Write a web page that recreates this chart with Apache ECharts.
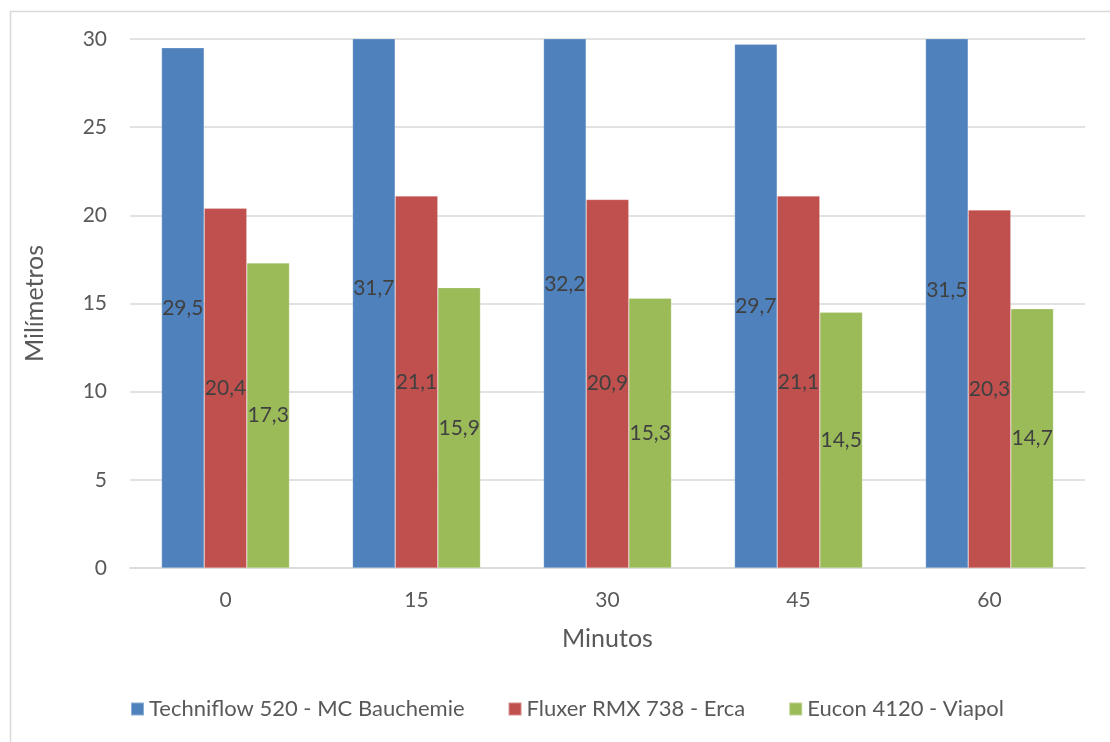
<!DOCTYPE html>
<html>
<head>
<meta charset="utf-8">
<script src="https://cdn.jsdelivr.net/npm/echarts@6/dist/echarts.min.js"></script>
<style>
  html, body { margin: 0; padding: 0; background: #ffffff; }
  #chart { width: 1110px; height: 742px; }
</style>
</head>
<body>
<div id="chart"></div>
<script>
// Slump spread (mm) measured over time for three admixtures
const categories = ['0', '15', '30', '45', '60'];
const seriesNames = ['Techniflow 520 - MC Bauchemie', 'Fluxer RMX 738 - Erca', 'Eucon 4120 - Viapol'];
const techniflow = [29.5, 31.7, 32.2, 29.7, 31.5];
const fluxer = [20.4, 21.1, 20.9, 21.1, 20.3];
const eucon = [17.3, 15.9, 15.3, 14.5, 14.7];
const yMin = 0;
const yMax = 30;
const yInterval = 5;

const colors = ['#4F81BD', '#C0504D', '#9BBB59'];
const fontFamily = 'Lato, "Open Sans", sans-serif';

// Bars taller than the axis are clipped at the top; keep their label at half of the real value
function toItems(values) {
  return values.map(function (v) {
    if (v > yMax) {
      const fromTop = (yMax - v / 2) / (yMax - yMin) * 100;
      return { value: v, label: { position: ['50%', fromTop + '%'], align: 'center', verticalAlign: 'middle' } };
    }
    return v;
  });
}

function barSeries(name, values, color) {
  return {
    name: name,
    type: 'bar',
    data: toItems(values),
    barGap: '0%',
    barCategoryGap: '33%',
    clip: true,
    itemStyle: { color: color, borderColor: 'rgba(255,255,255,0.35)', borderWidth: 0.6 },
    label: {
      show: true,
      position: 'inside',
      color: '#404040',
      fontFamily: fontFamily,
      fontSize: 21,
      formatter: function (p) { return String(p.value).replace('.', ','); }
    }
  };
}

const chart = echarts.init(document.getElementById('chart'), null, { renderer: 'canvas' });
chart.setOption({
  backgroundColor: '#ffffff',
  animation: false,
  color: colors,
  graphic: [{
    type: 'rect',
    left: 8, top: 9,
    shape: { width: 1200, height: 800 },
    style: { fill: 'none', stroke: '#D9D9D9', lineWidth: 1.5 },
    silent: true
  }],
  grid: { left: 130, right: 25, top: 39, bottom: 174 },
  legend: {
    bottom: 17,
    left: 125,
    icon: 'rect',
    itemWidth: 13,
    itemHeight: 13,
    itemGap: 43,
    textStyle: { color: '#595959', fontFamily: fontFamily, fontSize: 22 },
    data: seriesNames
  },
  xAxis: {
    type: 'category',
    data: categories,
    name: 'Minutos',
    nameLocation: 'middle',
    nameGap: 58,
    nameTextStyle: { color: '#595959', fontFamily: fontFamily, fontSize: 25 },
    axisLine: { lineStyle: { color: '#D9D9D9', width: 1.5 } },
    axisTick: { show: false },
    axisLabel: { color: '#595959', fontFamily: fontFamily, fontSize: 21, margin: 22 }
  },
  yAxis: {
    type: 'value',
    min: yMin,
    max: yMax,
    interval: yInterval,
    name: 'Milímetros',
    nameLocation: 'middle',
    nameGap: 83,
    nameTextStyle: { color: '#595959', fontFamily: fontFamily, fontSize: 25 },
    axisLine: { show: false },
    axisTick: { show: false },
    splitLine: { lineStyle: { color: '#D9D9D9', width: 1.5 } },
    axisLabel: { color: '#595959', fontFamily: fontFamily, fontSize: 21, margin: 23 }
  },
  series: [
    barSeries(seriesNames[0], techniflow, colors[0]),
    barSeries(seriesNames[1], fluxer, colors[1]),
    barSeries(seriesNames[2], eucon, colors[2])
  ]
});
</script>
</body>
</html>
